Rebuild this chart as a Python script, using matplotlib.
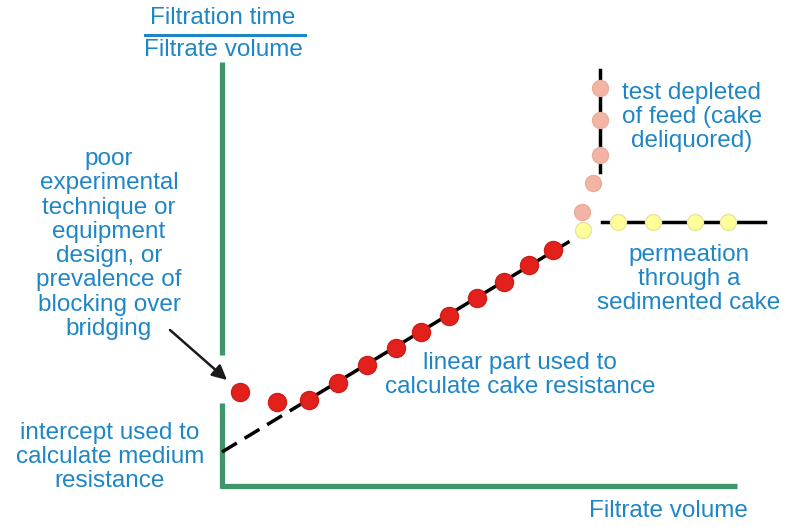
"""
Filtration curve sketch: t/V against V, with the usual regions annotated.
"""
import matplotlib
matplotlib.use("Agg")
import numpy as np
import matplotlib.pyplot as plt

# ── Data (arbitrary units: filtrate volume V, t/V) ───────────────────────────
red_v = [0.36, 1.10, 1.74, 2.32, 2.90, 3.48, 3.98, 4.54, 5.10, 5.64, 6.14, 6.62]
red_tv = [1.88, 1.68, 1.72, 2.06, 2.42, 2.76, 3.08, 3.40, 3.76, 4.08, 4.42, 4.72]

depleted_v = [7.56, 7.56, 7.56, 7.42, 7.20]
depleted_tv = [7.96, 7.32, 6.62, 6.06, 5.48]

sediment_v = [7.22, 7.92, 8.62, 9.46, 10.12]
sediment_tv = [5.12, 5.28, 5.28, 5.28, 5.28]

intercept = 0.68
slope = 0.606
dashed_v = [0.0, 1.62]
solid_v = [1.62, 6.92]

deliquored_v = [7.56, 7.56]
deliquored_tv = [6.28, 8.32]
plateau_v = [7.60, 10.86]
plateau_tv = [5.28, 5.28]

# ── Style ────────────────────────────────────────────────────────────────────
W, H = 786, 527
SCALE = 50.0                 # pixels per data unit
ORIGIN = (222, 486)          # pixel position of (0, 0)
BLUE = "#1f86c6"
GREEN = "#3f966b"
FS = 17.5
plt.rcParams["font.family"] = ["Liberation Sans", "DejaVu Sans"]


def px(x, y):
    """Pixel position -> figure fraction."""
    return x / W, 1 - y / H


fig = plt.figure(figsize=(W / 100, H / 100), dpi=100)
ax = fig.add_axes([0, 0, 1, 1])
ax.set_xlim(-ORIGIN[0] / SCALE, (W - ORIGIN[0]) / SCALE)
ax.set_ylim(-(H - ORIGIN[1]) / SCALE, ORIGIN[1] / SCALE)
ax.axis("off")

# axes (with the gap in the ordinate)
ax.plot([0, 0], [2.62, 8.48], color=GREEN, lw=3.8, solid_capstyle="butt")
ax.plot([0, 0], [-0.04, 1.66], color=GREEN, lw=3.8, solid_capstyle="butt")
ax.plot([-0.04, 10.3], [0, 0], color=GREEN, lw=3.8, solid_capstyle="butt")

# fitted line
dv = np.array(dashed_v)
sv = np.array(solid_v)
ax.plot(dv, intercept + slope * dv, color="black", lw=2.5,
        dashes=(5, 2.6), solid_capstyle="butt")
ax.plot(sv, intercept + slope * sv, color="black", lw=2.5)
ax.plot(deliquored_v, deliquored_tv, color="black", lw=2.5)
ax.plot(plateau_v, plateau_tv, color="black", lw=2.5)

# points
ax.plot(red_v, red_tv, "o", ms=13, color="#e2201c", mec="#cc1f1a", mew=1)
ax.plot(depleted_v, depleted_tv, "o", ms=11.5, color="#f2b4a4",
        mec="#ebac9c", mew=1)
ax.plot(sediment_v, sediment_tv, "o", ms=11.5, color="#ffff99",
        mec="#e8e2a4", mew=1)

# arrow to the first point
ax.annotate("", xy=(0.1, 2.12), xytext=(-1.04, 3.12),
            arrowprops=dict(arrowstyle="-|>", color="#1a1a1a", lw=1.8,
                            mutation_scale=22, shrinkA=0, shrinkB=0))

# ── Labels ───────────────────────────────────────────────────────────────────
labels = [
    ("Filtration time", 223, 18),
    ("Filtrate volume", 223, 50),
    ("Filtrate volume", 668, 511),
    ("poor\nexperimental\ntechnique or\nequipment\ndesign, or\n"
     "prevalence of\nblocking over\nbridging", 109, 244),
    ("intercept used to\ncalculate medium\nresistance", 110, 457),
    ("test depleted\nof feed (cake\ndeliquored)", 692, 117),
    ("permeation\nthrough a\nsedimented cake", 689, 279),
    ("linear part used to\ncalculate cake resistance", 520, 375),
]
for text, x, y in labels:
    fig.text(*px(x, y), text, color=BLUE, fontsize=FS, ha="center",
             va="center", linespacing=1.13)

# fraction bar in the axis title
x0, y0 = px(145, 35)
x1, _ = px(305, 35)
fig.add_artist(plt.Line2D([x0, x1], [y0, y0], color=BLUE, lw=2.2))

fig.savefig("out.png", dpi=100)
